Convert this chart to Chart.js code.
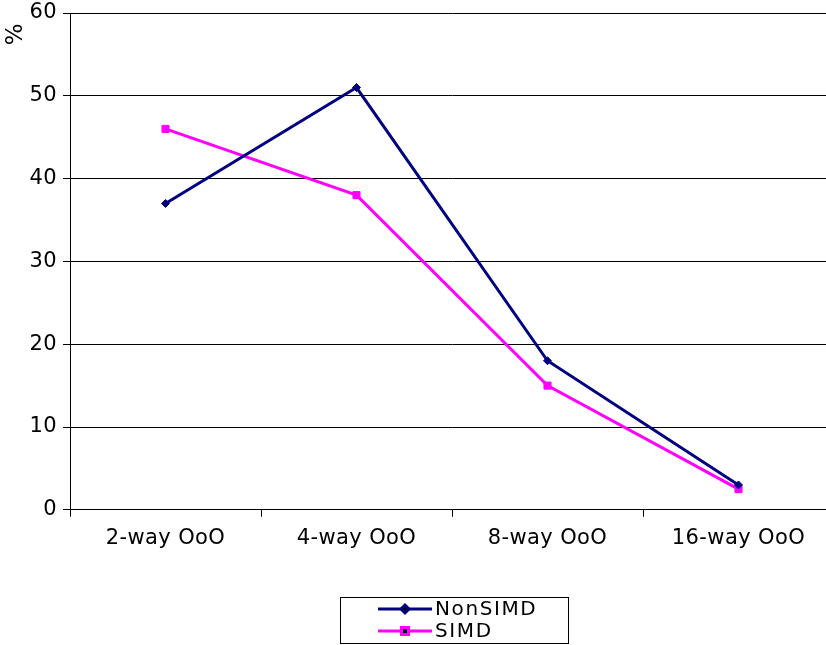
<html>
<head>
<style>
    body { margin: 0; background: #fff; overflow: hidden; }
    #wrap { width: 826px; height: 645px; overflow: hidden; }
    #box { width: 842px; height: 645px; }
</style>
</head>
<body>
<div id="wrap">
    <div id="box">
        <canvas id="chart"></canvas>
    </div>
</div>

<script src="https://cdn.jsdelivr.net/npm/chart.js"></script>

<script>
    var categories = ['2-way OoO', '4-way OoO', '8-way OoO', '16-way OoO'];
    var nonSimd = [37, 51, 18, 3];
    var simd = [46, 38, 15, 2.5];
    var yTicks = [0, 10, 20, 30, 40, 50, 60];
    var yTitle = '%';

    var family = 'Verdana, "DejaVu Sans", sans-serif';
    var font = { family: family, size: 21 };

    // the original text is a bit wider than DejaVu, so spread the letters
    var spacing = {
        id: 'spacing',
        beforeUpdate: function (chart) { chart.ctx.letterSpacing = '0.4px'; },
        beforeDraw: function (chart) { chart.ctx.letterSpacing = '0.4px'; }
    };

    // y title at the top of the axis + framed legend under the plot
    var extras = {
        id: 'extras',
        afterDraw: function (chart) {
            var ctx = chart.ctx;
            var area = chart.chartArea;

            ctx.save();
            ctx.fillStyle = '#000';
            ctx.font = '23px ' + family;
            ctx.textAlign = 'center';
            ctx.textBaseline = 'middle';
            ctx.translate(16, 34);
            ctx.rotate(-Math.PI / 2);
            ctx.fillText(yTitle, 0, 0);
            ctx.restore();

            var cx = (area.left + area.right) / 2;
            var left = cx - 112, top = 597, w = 228, h = 46;
            ctx.save();
            ctx.letterSpacing = '1.6px';
            ctx.strokeStyle = '#000';
            ctx.lineWidth = 1;
            ctx.strokeRect(left + 0.5, top + 0.5, w, h);
            ctx.font = '20px ' + family;
            ctx.textBaseline = 'middle';
            chart.data.datasets.forEach(function (ds, i) {
                var y = top + 12 + i * 22;
                ctx.strokeStyle = ds.borderColor;
                ctx.lineWidth = 3;
                ctx.beginPath();
                ctx.moveTo(left + 38, y);
                ctx.lineTo(left + 92, y);
                ctx.stroke();
                Chart.helpers.drawPoint(ctx, {
                    pointStyle: ds.pointStyle,
                    radius: ds.pointRadius,
                    borderWidth: 1
                }, left + 65, y);
                ctx.fillStyle = '#000';
                ctx.fillText(ds.label, left + 95, y + 1);
            });
            ctx.restore();
        }
    };

    new Chart(document.getElementById('chart'), {
        type: 'line',
        data: {
            labels: categories,
            datasets: [
                {
                    label: 'NonSIMD',
                    data: nonSimd,
                    borderColor: '#000080',
                    backgroundColor: '#000080',
                    borderWidth: 3,
                    pointStyle: 'rectRot',
                    pointRadius: 4,
                    pointBorderWidth: 1,
                    tension: 0
                },
                {
                    label: 'SIMD',
                    data: simd,
                    borderColor: '#FF00FF',
                    backgroundColor: '#FF00FF',
                    borderWidth: 3,
                    pointStyle: 'rect',
                    pointRadius: 5,
                    pointBorderWidth: 1,
                    tension: 0
                }
            ]
        },
        options: {
            responsive: true,
            maintainAspectRatio: false,
            animation: false,
            layout: { padding: { top: 13, right: 8, bottom: 85, left: 0 } },
            plugins: {
                legend: { display: false },
                tooltip: { enabled: false }
            },
            scales: {
                x: {
                    offset: true,
                    grid: {
                        offset: true,
                        drawOnChartArea: false,
                        drawTicks: true,
                        tickLength: 7,
                        color: '#000'
                    },
                    border: { color: '#000', width: 1 },
                    ticks: { color: '#000', font: font, padding: 9, maxRotation: 0 }
                },
                y: {
                    min: 0,
                    max: 60,
                    afterBuildTicks: function (scale) {
                        scale.ticks = yTicks.map(function (v) { return { value: v }; });
                    },
                    afterFit: function (scale) {
                        scale.width = 70;
                        scale.paddingTop = 0;
                        scale.paddingBottom = 0;
                    },
                    grid: { color: '#000', tickLength: 7, lineWidth: 1 },
                    border: { color: '#000', width: 1 },
                    ticks: { color: '#000', font: font, padding: 6 }
                }
            }
        },
        plugins: [spacing, extras]
    });
</script>
</body>
</html>
